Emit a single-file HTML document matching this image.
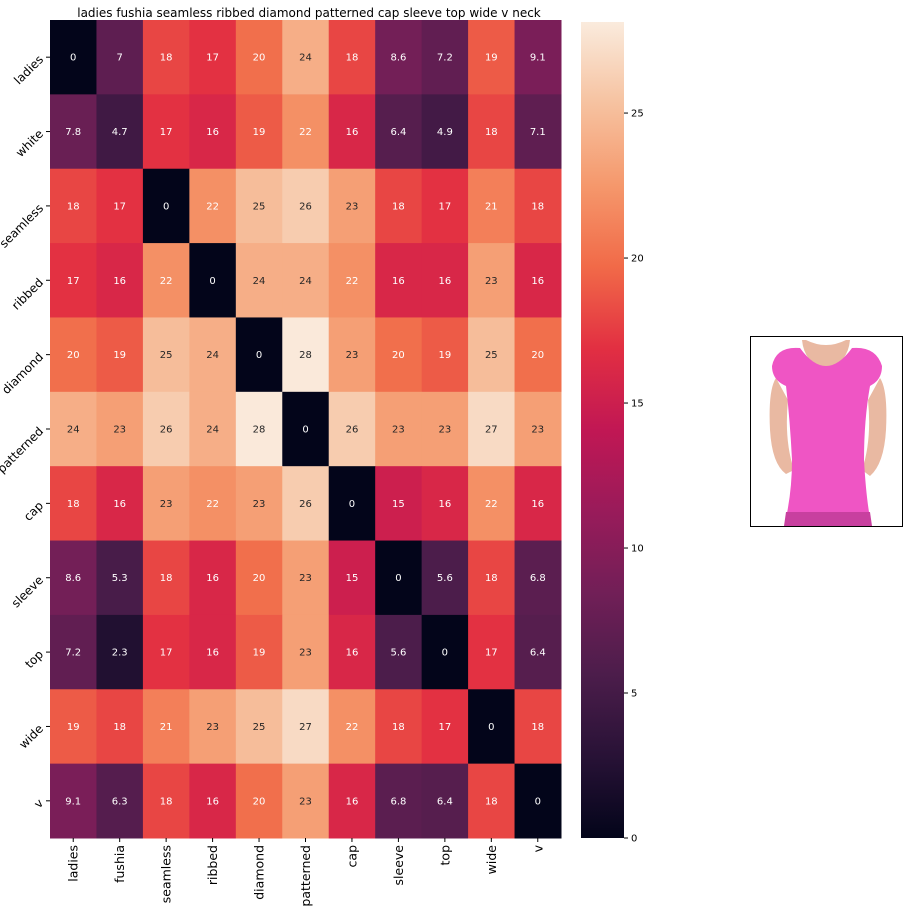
<!DOCTYPE html>
<html><head><meta charset="utf-8"><style>
body{margin:0;background:#fff;}
svg{display:block;font-family:"DejaVu Sans","Liberation Sans",sans-serif;}
</style></head><body>
<svg id="chart" width="909" height="912" viewBox="0 0 909 912">
<defs>
<linearGradient id="cbar" x1="0" y1="1" x2="0" y2="0"></linearGradient>
</defs>
<text x="309" y="17" font-size="12" text-anchor="middle" fill="#000">ladies fushia seamless ribbed diamond patterned cap sleeve top wide v neck</text>
<g id="cells"></g>
<g id="xlabels"></g>
<g id="ylabels"></g>
<rect x="581" y="22" width="43" height="816" fill="url(#cbar)"/>
<g id="cticks"></g>
<g>
<rect x="750.5" y="336.5" width="152" height="190" fill="#fff" stroke="#000" stroke-width="1"/>
<path d="M806 340 Q826 350 846 340 L850 340 Q848 362 826 372 Q804 362 802 340 Z" fill="#e9b9a2"/>
<path d="M776 378 Q768 390 770 430 Q772 464 786 474 L794 470 Q784 440 788 400 Z" fill="#e9b9a2"/>
<path d="M880 378 Q888 390 886 430 Q884 464 870 476 L862 470 Q872 440 868 400 Z" fill="#e9b9a2"/>
<path d="M772 366 Q776 346 800 348 Q826 384 852 348 Q876 346 882 366 Q882 380 870 386 Q864 420 864 460 Q866 496 870 518 L786 518 Q792 490 792 460 Q790 420 786 386 Q772 380 772 366 Z" fill="#ef55c4"/>
<path d="M786 512 L870 512 L872 526 L784 526 Z" fill="#c8409f"/>
</g>
</svg>
<script>
const rowLabels=["ladies","white","seamless","ribbed","diamond","patterned","cap","sleeve","top","wide","v"];
const colLabels=["ladies","fushia","seamless","ribbed","diamond","patterned","cap","sleeve","top","wide","v"];
const row0=[0,7,18,17,20,24,18,8.6,7.2,19,9.1];
const row1=[7.8,4.7,17,16,19,22,16,6.4,4.9,18,7.1];
const row2=[18,17,0,22,25,26,23,18,17,21,18];
const row3=[17,16,22,0,24,24,22,16,16,23,16];
const row4=[20,19,25,24,0,28,23,20,19,25,20];
const row5=[24,23,26,24,28,0,26,23,23,27,23];
const row6=[18,16,23,22,23,26,0,15,16,22,16];
const row7=[8.6,5.3,18,16,20,23,15,0,5.6,18,6.8];
const row8=[7.2,2.3,17,16,19,23,16,5.6,0,17,6.4];
const row9=[19,18,21,23,25,27,22,18,17,0,18];
const row10=[9.1,6.3,18,16,20,23,16,6.8,6.4,18,0];
const matrix=[row0,row1,row2,row3,row4,row5,row6,row7,row8,row9,row10];
const cbTicks=[0,5,10,15,20,25];
const vmin=0,vmax=28.14;

const NS="http://www.w3.org/2000/svg";
const L=50,R=561,T=20,B=838;
const cw=(R-L)/colLabels.length, rh=(B-T)/rowLabels.length;
const xPos=i=>L+i*cw, yPos=j=>T+j*rh;
const cbY=v=>838-(v-vmin)/(vmax-vmin)*816;
const stops=[[3,5,26],[40,18,54],[76,29,75],[113,31,87],[153,27,90],[193,23,84],[226,47,66],[241,106,72],[245,152,108],[246,194,160],[250,235,221]];
function color(v){let t=Math.max(0,Math.min(1,(v-vmin)/(vmax-vmin)))*10;let i=Math.min(9,Math.floor(t)),f=t-i;
 const c=stops[i].map((a,k)=>Math.round(a+(stops[i+1][k]-a)*f));return c;}
function lum(c){const l=c.map(x=>{x/=255;return x<=0.03928?x/12.92:Math.pow((x+0.055)/1.055,2.4)});return 0.2126*l[0]+0.7152*l[1]+0.0722*l[2];}
const grad=document.getElementById('cbar');
stops.forEach((s,i)=>{const st=document.createElementNS(NS,'stop');st.setAttribute('offset',(i/10));st.setAttribute('stop-color','rgb('+s.join(',')+')');grad.appendChild(st);});
const cells=document.getElementById('cells');
matrix.forEach((row,j)=>row.forEach((v,i)=>{
 const c=color(v);
 const r=document.createElementNS(NS,'rect');
 r.setAttribute('x',xPos(i));r.setAttribute('y',yPos(j));r.setAttribute('width',cw+0.5);r.setAttribute('height',rh+0.5);
 r.setAttribute('fill','rgb('+c.join(',')+')');
 
 
 cells.appendChild(r);
 const t=document.createElementNS(NS,'text');
 t.setAttribute('x',xPos(i)+cw/2);t.setAttribute('y',yPos(j)+rh/2+3.5);
 t.setAttribute('font-size','10');t.setAttribute('text-anchor','middle');
 t.setAttribute('fill',lum(c)>0.408?'#262626':'#fff');
 t.textContent=String(v);
 
 
 cells.appendChild(t);
}));
const xl=document.getElementById('xlabels');
colLabels.forEach((s,i)=>{
 const x=xPos(i)+cw/2;
 const ln=document.createElementNS(NS,'line');ln.setAttribute('x1',x);ln.setAttribute('x2',x);ln.setAttribute('y1',B);ln.setAttribute('y2',B+4);ln.setAttribute('stroke','#000');xl.appendChild(ln);
 const t=document.createElementNS(NS,'text');
 t.setAttribute('transform','translate('+(x+4.5)+','+(B+7)+') rotate(-90)');
 t.setAttribute('text-anchor','end');t.setAttribute('font-size','12.5');t.textContent=s;
 
 
 xl.appendChild(t);
});
const yl=document.getElementById('ylabels');
rowLabels.forEach((s,j)=>{
 const y=yPos(j)+rh/2;
 const ln=document.createElementNS(NS,'line');ln.setAttribute('x1',L-4);ln.setAttribute('x2',L);ln.setAttribute('y1',y);ln.setAttribute('y2',y);ln.setAttribute('stroke','#000');yl.appendChild(ln);
 const t=document.createElementNS(NS,'text');
 t.setAttribute('transform','translate('+(L-6)+','+(y+3)+') rotate(-45)');
 t.setAttribute('text-anchor','end');t.setAttribute('font-size','12');t.textContent=s;
 
 
 yl.appendChild(t);
});
const ct=document.getElementById('cticks');
cbTicks.forEach(v=>{
 const y=cbY(v);
 const ln=document.createElementNS(NS,'line');ln.setAttribute('x1',624);ln.setAttribute('x2',628);ln.setAttribute('y1',y);ln.setAttribute('y2',y);ln.setAttribute('stroke','#000');ct.appendChild(ln);
 const t=document.createElementNS(NS,'text');
 t.setAttribute('x',631);t.setAttribute('y',y+3.5);t.setAttribute('font-size','10');t.textContent=String(v);
 
 
 ct.appendChild(t);
});
</script>
</body></html>
